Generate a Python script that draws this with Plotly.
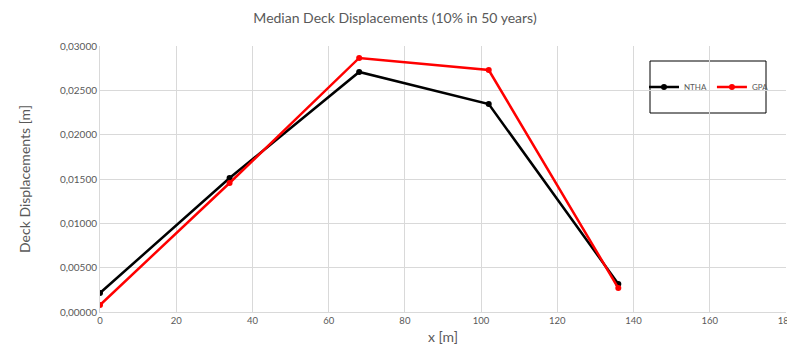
import plotly.graph_objects as go

x_pos = [0, 34, 68, 102, 136]
ntha = [0.00214, 0.01511, 0.02707, 0.02346, 0.00316]
gpa = [0.00079, 0.01455, 0.02865, 0.02729, 0.00270]

fig = go.Figure()
fig.add_trace(go.Scatter(x=x_pos, y=ntha, name="NTHA", mode="lines+markers",
                         line=dict(color="black", width=2.5), marker=dict(size=6, color="black")))
fig.add_trace(go.Scatter(x=x_pos, y=gpa, name="GPA", mode="lines+markers",
                         line=dict(color="#ff0000", width=2.5), marker=dict(size=6, color="#ff0000")))

# page has an 8px body margin; figure is sized to fit the remaining area
W, H = 787, 343
grid = "#d9d9d9"
fig.update_layout(
    width=W, height=H,
    margin=dict(l=92, r=9, t=38, b=39, autoexpand=False),
    paper_bgcolor="white", plot_bgcolor="white",
    separators=",.",
    font=dict(family="Lato", color="#595959"),
    title=dict(text="Median Deck Displacements (10% in 50 years)", x=387 / W, xanchor="center",
               y=1 - 10 / H, yanchor="middle", font=dict(size=14, color="#595959")),
    xaxis=dict(range=[0, 180], dtick=20, showgrid=True, gridcolor=grid, gridwidth=1,
               zeroline=False, showline=True, linecolor=grid, ticks="", automargin=False,
               ticklabeloverflow="allow",
               tickfont=dict(size=9.5, color="#595959"),
               title=dict(text="x [m]", font=dict(size=14, color="#595959"), standoff=6)),
    yaxis=dict(range=[0, 0.03], dtick=0.005, tickformat=".5f", showgrid=True, gridcolor=grid,
               zeroline=False, showline=True, linecolor=grid, ticks="", automargin=False,
               tickfont=dict(size=10, color="#595959"),
               title=dict(text="Deck Displacements [m]", font=dict(size=14, color="#595959"), standoff=26)),
    legend=dict(orientation="h", x=(709 - 100) / 686, y=(312 - 87) / 266, xanchor="center", yanchor="middle",
                font=dict(size=8, color="#595959"), bgcolor="rgba(0,0,0,0)",
                itemwidth=30, tracegroupgap=0),
    shapes=[dict(type="rect", xref="paper", yref="paper",
                 x0=(650 - 100) / 686, x1=(766 - 100) / 686,
                 y0=(312 - 113) / 266, y1=(312 - 61) / 266,
                 line=dict(color="black", width=1), fillcolor="white", layer="below")],
)
fig.write_html("out.html")
